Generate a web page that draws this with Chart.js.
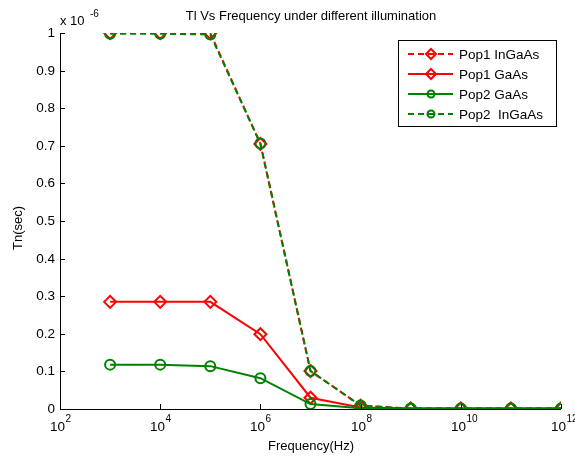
<!DOCTYPE html>
<html>
<head>
<meta charset="utf-8">
<script src="https://cdn.jsdelivr.net/npm/chart.js@4"></script>
<style>
  html, body { margin: 0; padding: 0; background: #fff; }
  #wrap { width: 575px; height: 458px; position: relative; }
</style>
</head>
<body>
<div id="wrap"><canvas id="tnChart"></canvas></div>
<script>
// frequency points (Hz) and Tn values in units of 1e-6 s
const freqs = [1e3, 1e4, 1e5, 1e6, 1e7, 1e8, 1e9, 1e10, 1e11, 1e12];
const pop1InGaAs = [1.0, 1.0, 1.0, 0.705, 0.101, 0.009, 0.001, 0.001, 0.001, 0.001];
const pop1GaAs   = [0.285, 0.285, 0.285, 0.199, 0.030, 0.004, 0.001, 0.001, 0.001, 0.001];
const pop2GaAs   = [0.118, 0.118, 0.114, 0.082, 0.013, 0.002, 0.001, 0.001, 0.001, 0.001];
const pop2InGaAs = [0.998, 0.998, 0.996, 0.706, 0.101, 0.009, 0.001, 0.001, 0.001, 0.001];

const xTickExps = [2, 4, 6, 8, 10, 12];
const yTicks = [0, 0.1, 0.2, 0.3, 0.4, 0.5, 0.6, 0.7, 0.8, 0.9, 1];

const RED = '#ff0000';
const GREEN = '#008000';
const FONT = 'Arial, "Liberation Sans", sans-serif';

function pts(arr) {
    return arr.map((v, i) => ({ x: freqs[i], y: v }));
}

const seriesInfo = [
    { label: 'Pop1 InGaAs', data: pop1InGaAs, color: RED, dash: [6, 4], marker: 'rectRot', radius: 6, order: 3 },
    { label: 'Pop1 GaAs', data: pop1GaAs, color: RED, dash: [], marker: 'rectRot', radius: 6, order: 2 },
    { label: 'Pop2 GaAs', data: pop2GaAs, color: GREEN, dash: [], marker: 'circle', radius: 5, order: 1 },
    { label: 'Pop2  InGaAs', data: pop2InGaAs, color: GREEN, dash: [6, 4], marker: 'circle', radius: 5, order: 0 }
];

// axes, ticks, labels and legend in MATLAB style
const matlabAxes = {
    id: 'matlabAxes',
    afterDraw(chart) {
        const ctx = chart.ctx;
        const xs = chart.scales.x, ys = chart.scales.y;
        const a = chart.chartArea;
        ctx.save();
        ctx.strokeStyle = '#000';
        ctx.fillStyle = '#000';
        ctx.lineWidth = 1;

        // axis lines
        ctx.beginPath();
        ctx.moveTo(a.left + 0.5, a.top);
        ctx.lineTo(a.left + 0.5, a.bottom + 0.5);
        ctx.lineTo(a.right, a.bottom + 0.5);
        ctx.stroke();

        // y ticks
        ctx.font = '13.5px ' + FONT;
        ctx.textAlign = 'right';
        ctx.textBaseline = 'middle';
        yTicks.forEach(t => {
            const py = Math.round(ys.getPixelForValue(t)) + 0.5;
            ctx.beginPath();
            ctx.moveTo(a.left, py);
            ctx.lineTo(a.left + 5, py);
            ctx.stroke();
            ctx.fillText(String(t), a.left - 5, py);
        });

        // x ticks with superscript exponents
        xTickExps.forEach(e => {
            const px = Math.round(xs.getPixelForValue(Math.pow(10, e))) + 0.5;
            ctx.beginPath();
            ctx.moveTo(px, a.bottom);
            ctx.lineTo(px, a.bottom - 5);
            ctx.stroke();
            ctx.font = '13.5px ' + FONT;
            ctx.textAlign = 'center';
            ctx.textBaseline = 'alphabetic';
            ctx.fillText('10', px - 3, a.bottom + 22);
            ctx.font = '10px ' + FONT;
            ctx.textAlign = 'left';
            ctx.fillText(String(e), px + 5, a.bottom + 13);
        });

        // multiplier above y axis
        ctx.font = '13px ' + FONT;
        ctx.textAlign = 'left';
        ctx.fillText('x 10', a.left, a.top - 8);
        ctx.font = '10px ' + FONT;
        ctx.fillText('-6', a.left + 30, a.top - 16);

        // title
        ctx.font = '13px ' + FONT;
        ctx.textAlign = 'center';
        ctx.fillText('Tl Vs Frequency under different illumination', 311, 20);

        // axis titles
        ctx.fillText('Frequency(Hz)', 311, 450);
        ctx.save();
        ctx.translate(18, 228);
        ctx.rotate(-Math.PI / 2);
        ctx.textBaseline = 'middle';
        ctx.fillText('Tn(sec)', 0, 0);
        ctx.restore();

        // legend
        const lx = 398, ly = 40, lw = 158, lh = 86;
        ctx.fillStyle = '#fff';
        ctx.fillRect(lx, ly, lw, lh);
        ctx.strokeStyle = '#000';
        ctx.strokeRect(lx + 0.5, ly + 0.5, lw, lh);
        seriesInfo.forEach((s, i) => {
            const ry = ly + 14 + i * 20;
            ctx.strokeStyle = s.color;
            ctx.lineWidth = 2;
            ctx.setLineDash(s.dash);
            ctx.beginPath();
            ctx.moveTo(408, ry);
            ctx.lineTo(453, ry);
            ctx.stroke();
            ctx.setLineDash([]);
            ctx.fillStyle = '#fff';
            ctx.beginPath();
            if (s.marker === 'circle') {
                ctx.arc(431, ry, 3.5, 0, Math.PI * 2);
            } else {
                ctx.moveTo(431, ry - 5);
                ctx.lineTo(436, ry);
                ctx.lineTo(431, ry + 5);
                ctx.lineTo(426, ry);
                ctx.closePath();
            }
            ctx.stroke();
            ctx.fillStyle = '#000';
            ctx.font = '13.5px ' + FONT;
            ctx.textAlign = 'left';
            ctx.textBaseline = 'middle';
            ctx.fillText(s.label, 459, ry + 1);
        });
        ctx.restore();
    }
};

new Chart(document.getElementById('tnChart'), {
    type: 'line',
    data: {
        datasets: seriesInfo.map(s => ({
            label: s.label,
            data: pts(s.data),
            borderColor: s.color,
            borderWidth: 2,
            borderDash: s.dash,
            pointStyle: s.marker,
            pointRadius: s.radius,
            pointBorderColor: s.color,
            pointBorderWidth: 2,
            pointBackgroundColor: 'rgba(0,0,0,0)',
            fill: false,
            tension: 0,
            order: s.order
        }))
    },
    options: {
        responsive: true,
        maintainAspectRatio: false,
        animation: false,
        layout: { padding: { left: 60, right: 14, top: 33, bottom: 49 } },
        plugins: {
            legend: { display: false },
            tooltip: { enabled: false }
        },
        scales: {
            x: { type: 'logarithmic', min: 1e2, max: 1e12, display: false },
            y: { type: 'linear', min: 0, max: 1, display: false }
        }
    },
    plugins: [matlabAxes]
});
</script>
</body>
</html>
